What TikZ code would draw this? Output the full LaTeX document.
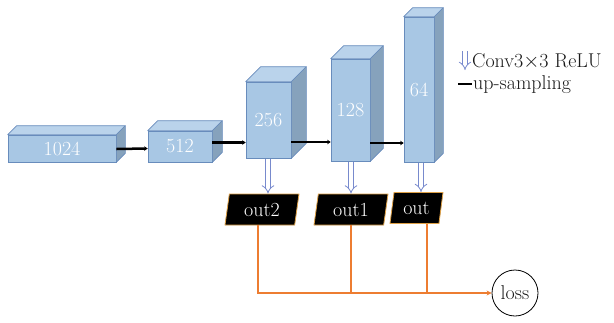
\documentclass[tikz,border=0pt]{standalone}
\usepackage{fontspec}
\usetikzlibrary{arrows.meta,shapes.geometric}
\definecolor{cfront}{RGB}{168,199,228}
\definecolor{ctop}{RGB}{186,211,235}
\definecolor{cside}{RGB}{134,162,188}
\definecolor{cedge}{RGB}{104,140,188}
\definecolor{carrow}{RGB}{120,138,205}
\definecolor{corange}{RGB}{237,125,49}
\definecolor{cborder}{RGB}{222,160,70}
\definecolor{ctext}{RGB}{25,25,25}
\newcommand\cubeblk[7]{%
  \node[front, minimum width=#4pt, minimum height=#5pt] (#1) at (#2,#3) {#7};
  \draw[topf] (#1.north west) -- ++(#6,-#6) -- ([shift={(#6,-#6)}]#1.north east) -- (#1.north east) -- cycle;
  \draw[sidef] (#1.north east) -- ++(#6,-#6) -- ([shift={(#6,-#6)}]#1.south east) -- (#1.south east) -- cycle;
}
\begin{document}
\begin{tikzpicture}[x=1pt,y=-1pt,
  font=\fontsize{20}{24}\selectfont,
  front/.style={draw=cedge, line width=0.6pt, fill=cfront, inner sep=0pt, text=white},
  topf/.style={draw=cedge, line width=0.6pt, fill=ctop, line join=round},
  sidef/.style={draw=cedge, line width=0.6pt, fill=cside, line join=round},
  upline/.style={line width=2.5pt, -{Stealth[length=3.5pt,width=4.5pt]}},
  convarrow/.style={draw=carrow, double=white, double distance=3.6pt, line width=0.8pt, -{Implies}},
  outbox/.style={trapezium, trapezium left angle=72, trapezium right angle=108,
    trapezium stretches body, fill=black, draw=cborder, line width=0.8pt, text=white,
    minimum height=31pt, inner sep=0pt},
  lossnode/.style={circle, draw=black, line width=0.8pt, minimum size=46pt, inner sep=0pt, text=ctext},
  orangeline/.style={draw=corange, line width=1.2pt},
  legend/.style={anchor=west, inner sep=0pt, text=ctext}
  ]
\useasboundingbox (0,0) rectangle (614,322);

% cubes
\cubeblk{c1024}{62}{148.5}{108}{27}{9}{1024}
\cubeblk{c512}{180}{146.5}{64}{31}{10}{512}
\cubeblk{c256}{268.5}{120}{45}{76}{15}{256}
\cubeblk{c128}{350.5}{110}{39}{102}{13}{128}
\cubeblk{c64}{419}{89.5}{30}{145}{9}{64}

% up-sampling connectors
\draw[upline] ([yshift=-0.5pt]c1024.east) -- (c1024.east -| c512.west);
\draw[upline] ([yshift=4pt]c512.east) -- ([yshift=4pt]c512.east -| c256.west);
\draw[upline] ([yshift=-22pt]c256.east) -- ([yshift=-22pt]c256.east -| c128.west);
\draw[upline] ([yshift=-33pt]c128.east) -- ([yshift=-33pt]c128.east -| c64.west);

% output boxes
\node[outbox, minimum width=74pt] (out2) at (262,209.5) {out2};
\node[outbox, minimum width=74pt] (out1) at (351,209.5) {out1};
\node[outbox, minimum width=53pt] (out) at (416.5,208) {out};

% conv arrows
\coordinate (a1) at (268,158.5);
\coordinate (a2) at (351,161.5);
\coordinate (a3) at (421,162.5);
\draw[convarrow] (a1) -- (a1 |- out2.north);
\draw[convarrow] (a2) -- (a2 |- out1.north);
\draw[convarrow] (a3) -- (a3 |- out.north);

% loss
\node[lossnode] (loss) at (515,293) {loss};
\coordinate (o2) at (258,225);
\draw[orangeline, -{Stealth[length=5pt,width=5pt]}] (o2) |- (loss.west);
\coordinate (j1) at (out1.south |- loss.west);
\draw[orangeline] (out1.south) -- (j1);
\coordinate (j2) at (427,293);
\draw[orangeline] (out.south -| j2) -- (j2);

% legend
\coordinate (la1) at (465,51);
\coordinate (la2) at (465,70);
\draw[convarrow] (la1) -- (la2);
\node[legend] (lconv) at (472,61) {Conv3$\times$3 ReLU};
\coordinate (lb1) at (458,84);
\coordinate (lb2) at (472,84);
\draw[line width=2.5pt] (lb1) -- (lb2);
\node[legend] (lup) at (473,85) {up-sampling};
\end{tikzpicture}
\end{document}
